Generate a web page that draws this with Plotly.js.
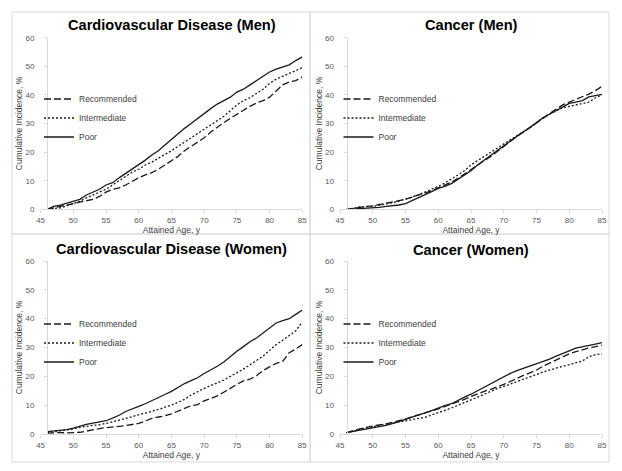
<!DOCTYPE html>
<html>
<head>
<meta charset="utf-8">
<script src="https://cdn.plot.ly/plotly-3.0.1.min.js"></script>
<style>html,body{margin:0;padding:0;background:#fff;}#chart{width:622px;height:471px;}</style>
</head>
<body>
<div id="chart"></div>
<script>
// Attained age, years
const ages = [46,47,48,49,50,51,52,53,54,55,56,57,58,59,60,61,62,63,64,65,66,67,68,69,70,71,72,73,74,75,76,77,78,79,80,81,82,83,84,85];
const xTicks = [45,50,55,60,65,70,75,80,85];
const yTicks = [0,10,20,30,40,50,60];
const seriesNames = ["Recommended","Intermediate","Poor"];
const panelTitles = ["Cardiovascular Disease (Men)","Cancer (Men)","Cardiovascular Disease (Women)","Cancer (Women)"];

// Cardiovascular disease, men (cumulative incidence %)
const cvdMenRecommended = [0,0.5,1,1.3,2,2.5,3,3.5,4.5,6,7,7.5,8.5,9.8,11,12,12.8,14,15.5,17,18.5,20.5,22,23.5,25,27,28.8,30.3,31.8,33.2,34.8,36,37.2,38,39.2,41.5,43.5,44.5,45,46.3];
const cvdMenIntermediate = [0,0.3,0.5,1.2,2,2.8,4,5,6,7,8.5,10,11.5,13,14,15.5,16.5,17.8,19,20.5,22,23.5,25,26.3,27.8,29.5,31,32.5,34.5,36.5,38,39,40.5,42,44,45.5,46.5,47.5,48.5,49.5];
const cvdMenPoor = [0,1,1.5,2.2,3,3.5,5,6,7,8.5,9.3,11,12.5,14,15.5,17.2,19,20.5,22.5,24.5,26.5,28.3,30,31.8,33.5,35.2,36.8,38,39.2,41,42,43.5,45,46.5,48,49,49.8,50.5,52,53.3];

// Cancer, men
const cancerMenRecommended = [0,0.4,0.7,1,1.2,1.6,2,2.4,3,3.5,4.2,4.9,5.6,6.5,7.5,8.5,9.5,10.8,12.3,14,15.5,17,18.5,20.2,22,23.8,25.5,27,28.5,30.2,31.8,33.5,35,36.5,37.5,38.4,39.3,40.3,41.5,43];
const cancerMenIntermediate = [0,0.5,0.8,0.9,1,1.4,1.8,2.3,2.9,3.5,4.3,5.1,6,7,8,9.2,10.5,12,13.5,15.5,17,18.5,20,21.5,23,24.4,25.8,27.2,28.5,30.3,32,33.3,34.5,35.5,36,36.5,37,37.5,39,40];
const cancerMenPoor = [0,0.1,0.3,0.4,0.5,0.7,1,1.2,1.5,2,3,4,5,6.2,7.3,8,9,10.5,12,13.5,15.5,17.2,18.8,20.3,22,23.8,25.5,27,28.5,30.3,32,33.3,34.5,36,37,37.5,38,39.3,39.8,40.2];

// Cardiovascular disease, women
const cvdWomenRecommended = [0.3,0.5,0.5,0.4,0.4,0.6,1,1.5,1.9,2.2,2.4,2.6,2.9,3.3,3.7,4.5,5.4,5.9,6.3,7,8,9,9.8,10.2,11.5,12.3,13.2,14.5,16,17.2,18.4,19,20.2,22,23.3,24.5,25.2,28.2,29.5,31];
const cvdWomenIntermediate = [0.5,0.8,1,1.2,1.7,2.3,2.7,3,3.2,3.6,4.2,4.8,5.4,6,6.5,7.2,7.8,8.5,9.3,10,11,12,13.5,14.8,15.8,16.8,17.7,18.7,20,21.2,22.5,24,25.5,27,29,31,32.5,34,35.8,39];
const cvdWomenPoor = [0.8,1,1.2,1.5,2,2.7,3.3,3.8,4.1,4.6,5.5,6.5,7.8,8.8,9.6,10.5,11.5,12.5,13.7,14.8,16.3,17.5,18.5,19.5,21,22.2,23.5,25,27,28.7,30.3,32,33.3,35,36.5,38.5,39.3,40,41.5,43];

// Cancer, women
const cancerWomenRecommended = [0.5,1.2,1.8,2.3,2.8,3.2,3.5,4,4.5,5.2,6,6.6,7.3,8,8.7,9.5,10.2,11.1,12,13,14,14.8,15.5,16.3,17.2,18.2,19.3,20.3,21.2,22.2,23.5,24.6,25.8,26.8,27.8,28.6,29.3,29.8,30.3,30.8];
const cancerWomenIntermediate = [0.4,1,1.5,2,2.5,2.9,3.2,3.7,4.2,4.5,5,5.4,5.8,6.6,7.5,8.2,9,9.9,10.8,11.8,12.8,13.8,14.8,15.7,16.5,17.4,18.2,19,19.8,20.7,21.5,22.2,22.8,23.5,24.2,24.7,25.3,26.8,27.5,27.8];
const cancerWomenPoor = [0.5,0.9,1.3,1.7,2.2,2.6,3,3.6,4.3,5,5.8,6.5,7.3,8.1,9,9.8,10.5,11.7,12.8,13.8,15,16.3,17.5,18.7,19.8,21,22,22.8,23.5,24.2,25.2,26,27,27.8,28.8,29.8,30.2,30.7,31.2,31.7];

const panels = [
  [cvdMenRecommended, cvdMenIntermediate, cvdMenPoor],
  [cancerMenRecommended, cancerMenIntermediate, cancerMenPoor],
  [cvdWomenRecommended, cvdWomenIntermediate, cvdWomenPoor],
  [cancerWomenRecommended, cancerWomenIntermediate, cancerWomenPoor]
];

const W = 622, H = 471;
const px = v => v / W;
const py = v => 1 - v / H;
const dashes = ["7px,3px", "2px,2px", "solid"];
const lineColor = "#1a1a1a";
const tickFont = {family: "Liberation Sans, Arial, sans-serif", size: 8, color: "#595959"};
const titleFont = {family: "Liberation Sans, Arial, sans-serif", size: 8.5, color: "#404040"};

// panel geometry (pixels)
const geo = [
  {x0: 40.6, x1: 302.3, yTop: 37.7, yBot: 209.3, yAxisX: 47.1, title: [171.5, 25], leg: [39, 118]},
  {x0: 340, x1: 602, yTop: 37.7, yBot: 209.3, yAxisX: 346.5, title: [471, 25], leg: [338.5, 118]},
  {x0: 40.6, x1: 302.3, yTop: 261, yBot: 434, yAxisX: 47.1, title: [171.5, 249], leg: [39, 343]},
  {x0: 340, x1: 602, yTop: 261, yBot: 434, yAxisX: 346.5, title: [471, 250], leg: [338.5, 343]}
];

const traces = [];
const layout = {
  width: W, height: H,
  margin: {l: 0, r: 0, t: 0, b: 0},
  paper_bgcolor: "#ffffff", plot_bgcolor: "rgba(0,0,0,0)",
  showlegend: true,
  annotations: [], shapes: []
};

panels.forEach((series, p) => {
  const g = geo[p];
  const n = p + 1;
  const xa = n === 1 ? "x" : "x" + n;
  const ya = n === 1 ? "y" : "y" + n;
  const legName = n === 1 ? "legend" : "legend" + n;
  series.forEach((vals, s) => {
    traces.push({
      type: "scatter", mode: "lines",
      x: ages, y: vals, name: seriesNames[s],
      xaxis: xa, yaxis: ya, legend: legName,
      line: {color: lineColor, width: 1.3, dash: dashes[s]},
      hoverinfo: "skip"
    });
  });
  layout[n === 1 ? "xaxis" : "xaxis" + n] = {
    domain: [px(g.x0), px(g.x1)], anchor: ya, range: [45, 85],
    tickvals: xTicks, ticktext: xTicks.map(String),
    showgrid: false, zeroline: false, showline: true, linecolor: "#d9d9d9", linewidth: 1,
    ticks: "outside", ticklen: 3, tickcolor: "#d9d9d9",
    tickfont: tickFont,
    title: {text: "Attained Age, y", font: titleFont, standoff: 3},
    fixedrange: true
  };
  layout[n === 1 ? "yaxis" : "yaxis" + n] = {
    domain: [py(g.yBot), py(g.yTop)], anchor: "free", position: px(g.yAxisX), range: [0, 60],
    tickvals: yTicks, ticktext: yTicks.map(String),
    showgrid: false, zeroline: false, showline: true, linecolor: "#d9d9d9", linewidth: 1,
    ticks: "outside", ticklen: 3, tickcolor: "#d9d9d9", ticklabelstandoff: 8,
    tickfont: tickFont,
    title: {text: "Cumulative Incidence, %", font: titleFont, standoff: 0},
    fixedrange: true
  };
  layout[legName] = {
    x: px(g.leg[0]), y: py(g.leg[1]), xanchor: "left", yanchor: "middle",
    bgcolor: "rgba(0,0,0,0)", borderwidth: 0,
    font: {family: "Liberation Sans, Arial, sans-serif", size: 8.5, color: "#404040"},
    tracegroupgap: 0, itemwidth: 30
  };
  layout.annotations.push({
    text: "<b>" + panelTitles[p] + "</b>", showarrow: false,
    xref: "paper", yref: "paper", x: px(g.title[0]), y: py(g.title[1]),
    xanchor: "center", yanchor: "middle",
    font: {family: "Liberation Sans, Arial, sans-serif", size: 14.6, color: "#000000"}
  });
});

// panel frames
const frameX = [12, 310, 609];
const frameY = [12, 234, 462];
for (let r = 0; r < 2; r++) {
  for (let c = 0; c < 2; c++) {
    layout.shapes.push({
      type: "rect", xref: "paper", yref: "paper",
      x0: px(frameX[c]), x1: px(frameX[c + 1]), y0: py(frameY[r + 1]), y1: py(frameY[r]),
      line: {color: "#d9d9d9", width: 1}, fillcolor: "rgba(0,0,0,0)", layer: "below"
    });
  }
}

Plotly.newPlot("chart", traces, layout, {displayModeBar: false, staticPlot: true});
</script>
</body>
</html>
